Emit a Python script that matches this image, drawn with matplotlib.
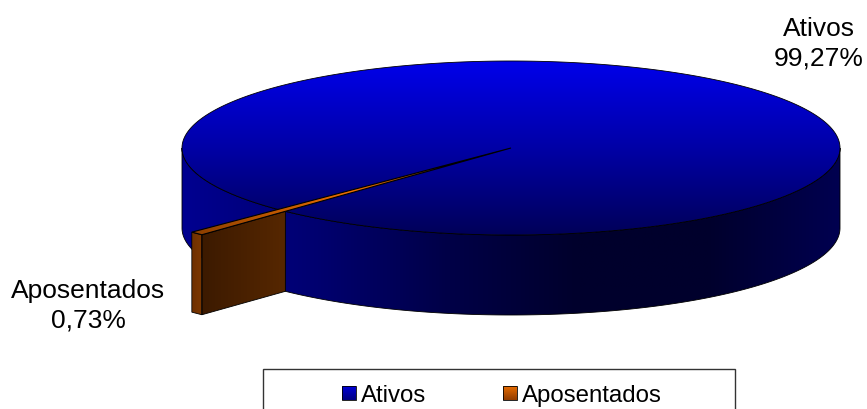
import matplotlib
matplotlib.use("Agg")
import matplotlib.pyplot as plt
import numpy as np
from matplotlib.colors import LinearSegmentedColormap
from matplotlib.patches import PathPatch, Rectangle
from matplotlib.path import Path

plt.rcParams['font.family'] = ['Liberation Sans', 'DejaVu Sans']

# data
labels = ["Ativos", "Aposentados"]
shares = [99.27, 0.73]
share_text = ["99,27%", "0,73%"]

# pie geometry, in pixels
cx, cy = 511, 149
rx, ry = 329, 87
depth = 80
slice_start = 133.3  # where the small slice starts, degrees on the ellipse
slice_reach = 1.37   # the slice sticks out past the rim
squash = 0.68        # tilt makes the slice look narrower

top_cmap = LinearSegmentedColormap.from_list("top", ["#0000ea", "#0000a6", "#000058"])
side_cmap = LinearSegmentedColormap.from_list("side", ["#000090", "#000070", "#000048", "#00002c", "#00002c", "#000050"])
face_cmap = LinearSegmentedColormap.from_list("face", ["#3c1a00", "#562700"])
sliver_cmap = LinearSegmentedColormap.from_list("sliver", ["#8a3e00", "#f07000", "#000000"])
blue_box = LinearSegmentedColormap.from_list("bb", ["#0000d8", "#000080"])
orange_box = LinearSegmentedColormap.from_list("ob", ["#e86c00", "#903c00"])


def rim(t, dy=0, r=1.0):
    t = np.radians(t)
    return np.column_stack([cx + r * rx * np.cos(t), cy + dy + r * ry * np.sin(t)])


def gradient_shape(ax, pts, cmap, vertical=True, z=1, lw=0.6):
    # fill a polygon with a linear gradient
    pts = np.asarray(pts)
    path = Path(np.vstack([pts, pts[0]]), closed=True)
    x0, x1 = pts[:, 0].min(), pts[:, 0].max()
    y0, y1 = pts[:, 1].min(), pts[:, 1].max()
    g = np.linspace(0, 1, 256)
    g = g.reshape(-1, 1) if vertical else g.reshape(1, -1)
    im = ax.imshow(g, cmap=cmap, extent=(x0, x1, y1, y0), aspect="auto", zorder=z, vmin=0, vmax=1)
    im.set_clip_path(PathPatch(path, transform=ax.transData))
    ax.add_patch(PathPatch(path, facecolor="none", edgecolor="black", lw=lw, zorder=z + 0.1))


fig = plt.figure(figsize=(8.67, 4.10), dpi=100)
ax = fig.add_axes([0, 0, 1, 1])

# side wall
top_edge = rim(np.linspace(0, 180, 300))
bottom_edge = rim(np.linspace(180, 0, 300), dy=depth)
gradient_shape(ax, np.vstack([top_edge, bottom_edge]), side_cmap, vertical=False, z=1)

# top of the big slice
gradient_shape(ax, rim(np.linspace(0, 360, 600)), top_cmap, vertical=True, z=2)

# small slice, its width comes from the share
sweep = shares[1] / 100 * 360 * squash
near = rim(slice_start, r=slice_reach)[0]
far = rim(slice_start + sweep, r=slice_reach)[0]
root = rim(slice_start, r=1.0)[0]
center = np.array([cx, cy])
down = np.array([0, depth])

gradient_shape(ax, [near, root, root + down, near + down], face_cmap, vertical=False, z=3)
gradient_shape(ax, [far, near, near + down, far + down], LinearSegmentedColormap.from_list("rim", ["#6e3000", "#7e3800"]), vertical=False, z=3)
gradient_shape(ax, [far, near, center], sliver_cmap, vertical=False, z=4, lw=0.8)

# data labels
ax.text(818.5, 44, labels[0] + "\n" + share_text[0], fontsize=19, ha="center", va="center", linespacing=1.28, color="black")
ax.text(88.5, 306, labels[1] + "\n" + share_text[1], fontsize=19, ha="center", va="center", linespacing=1.28, color="black")

# legend, the box runs off the bottom of the picture
ax.add_patch(Rectangle((263, 370), 472, 50, facecolor="white", edgecolor="#333333", lw=1, zorder=5))
gradient_shape(ax, [(342, 387), (356, 387), (356, 401), (342, 401)], blue_box, z=6)
gradient_shape(ax, [(503, 387), (517, 387), (517, 401), (503, 401)], orange_box, z=6)
ax.text(360.5, 402, labels[0], fontsize=17.3, ha="left", va="baseline", zorder=6)
ax.text(521.5, 402, labels[1], fontsize=17.3, ha="left", va="baseline", zorder=6)

ax.set_xlim(0, 867)
ax.set_ylim(410, 0)
ax.axis("off")

fig.savefig("out.png", dpi=100)
plt.close(fig)
